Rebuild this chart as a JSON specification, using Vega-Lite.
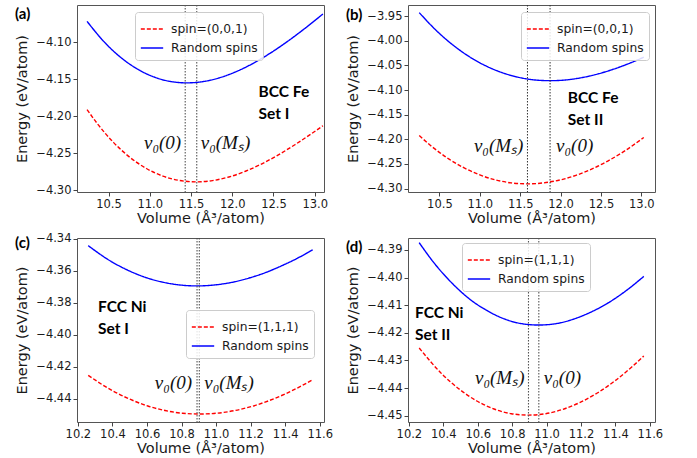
{
  "$schema": "https://vega.github.io/schema/vega-lite/v6.json",
  "padding": {"left": 14, "top": 3, "right": 5, "bottom": 5},
  "background": "white",
  "columns": 2,
  "spacing": {"row": 6, "column": 12},
  "resolve": {
    "scale": {"x": "independent", "y": "independent", "color": "independent", "strokeDash": "independent"},
    "legend": {"color": "independent", "strokeDash": "independent"}
  },
  "datasets": {
    "a": [
      {"s": "Random spins", "V": 10.24, "E": -4.0720}, {"s": "Random spins", "V": 10.45, "E": -4.1000},
      {"s": "Random spins", "V": 10.65, "E": -4.1208}, {"s": "Random spins", "V": 10.85, "E": -4.1363},
      {"s": "Random spins", "V": 11.05, "E": -4.1470}, {"s": "Random spins", "V": 11.25, "E": -4.1531},
      {"s": "Random spins", "V": 11.45, "E": -4.1550}, {"s": "Random spins", "V": 11.65, "E": -4.1532},
      {"s": "Random spins", "V": 11.85, "E": -4.1480}, {"s": "Random spins", "V": 12.05, "E": -4.1397},
      {"s": "Random spins", "V": 12.25, "E": -4.1289}, {"s": "Random spins", "V": 12.45, "E": -4.1157},
      {"s": "Random spins", "V": 12.65, "E": -4.1007}, {"s": "Random spins", "V": 12.85, "E": -4.0842},
      {"s": "Random spins", "V": 13.10, "E": -4.0620},
      {"s": "spin=(0,0,1)", "V": 10.24, "E": -4.1910}, {"s": "spin=(0,0,1)", "V": 10.36, "E": -4.2094},
      {"s": "spin=(0,0,1)", "V": 10.56, "E": -4.2353}, {"s": "spin=(0,0,1)", "V": 10.76, "E": -4.2556},
      {"s": "spin=(0,0,1)", "V": 10.96, "E": -4.2706}, {"s": "spin=(0,0,1)", "V": 11.16, "E": -4.2809},
      {"s": "spin=(0,0,1)", "V": 11.36, "E": -4.2867}, {"s": "spin=(0,0,1)", "V": 11.56, "E": -4.2886},
      {"s": "spin=(0,0,1)", "V": 11.76, "E": -4.2869}, {"s": "spin=(0,0,1)", "V": 11.96, "E": -4.2820},
      {"s": "spin=(0,0,1)", "V": 12.16, "E": -4.2743}, {"s": "spin=(0,0,1)", "V": 12.36, "E": -4.2642},
      {"s": "spin=(0,0,1)", "V": 12.56, "E": -4.2521}, {"s": "spin=(0,0,1)", "V": 12.76, "E": -4.2385},
      {"s": "spin=(0,0,1)", "V": 12.96, "E": -4.2237}, {"s": "spin=(0,0,1)", "V": 13.10, "E": -4.2129}
    ],
    "b": [
      {"s": "Random spins", "V": 10.25, "E": -3.9430}, {"s": "Random spins", "V": 10.47, "E": -3.9806},
      {"s": "Random spins", "V": 10.67, "E": -4.0090}, {"s": "Random spins", "V": 10.87, "E": -4.0323},
      {"s": "Random spins", "V": 11.07, "E": -4.0506}, {"s": "Random spins", "V": 11.27, "E": -4.0643},
      {"s": "Random spins", "V": 11.47, "E": -4.0738}, {"s": "Random spins", "V": 11.67, "E": -4.0793},
      {"s": "Random spins", "V": 11.87, "E": -4.0810}, {"s": "Random spins", "V": 12.07, "E": -4.0794},
      {"s": "Random spins", "V": 12.27, "E": -4.0746}, {"s": "Random spins", "V": 12.47, "E": -4.0670},
      {"s": "Random spins", "V": 12.67, "E": -4.0569}, {"s": "Random spins", "V": 12.87, "E": -4.0446},
      {"s": "Random spins", "V": 13.03, "E": -4.0334},
      {"s": "spin=(0,0,1)", "V": 10.25, "E": -4.1923}, {"s": "spin=(0,0,1)", "V": 10.39, "E": -4.2124},
      {"s": "spin=(0,0,1)", "V": 10.59, "E": -4.2369}, {"s": "spin=(0,0,1)", "V": 10.79, "E": -4.2565},
      {"s": "spin=(0,0,1)", "V": 10.99, "E": -4.2715}, {"s": "spin=(0,0,1)", "V": 11.19, "E": -4.2821},
      {"s": "spin=(0,0,1)", "V": 11.39, "E": -4.2883}, {"s": "spin=(0,0,1)", "V": 11.59, "E": -4.2903},
      {"s": "spin=(0,0,1)", "V": 11.79, "E": -4.2883}, {"s": "spin=(0,0,1)", "V": 11.99, "E": -4.2825},
      {"s": "spin=(0,0,1)", "V": 12.19, "E": -4.2730}, {"s": "spin=(0,0,1)", "V": 12.39, "E": -4.2599},
      {"s": "spin=(0,0,1)", "V": 12.59, "E": -4.2435}, {"s": "spin=(0,0,1)", "V": 12.79, "E": -4.2239},
      {"s": "spin=(0,0,1)", "V": 13.03, "E": -4.1963}
    ],
    "c": [
      {"s": "Random spins", "V": 10.26, "E": -4.3442}, {"s": "Random spins", "V": 10.39, "E": -4.3539},
      {"s": "Random spins", "V": 10.49, "E": -4.3596}, {"s": "Random spins", "V": 10.59, "E": -4.3640},
      {"s": "Random spins", "V": 10.69, "E": -4.3670}, {"s": "Random spins", "V": 10.79, "E": -4.3688},
      {"s": "Random spins", "V": 10.89, "E": -4.3694}, {"s": "Random spins", "V": 10.99, "E": -4.3688},
      {"s": "Random spins", "V": 11.09, "E": -4.3672}, {"s": "Random spins", "V": 11.19, "E": -4.3645},
      {"s": "Random spins", "V": 11.29, "E": -4.3609}, {"s": "Random spins", "V": 11.39, "E": -4.3563},
      {"s": "Random spins", "V": 11.49, "E": -4.3510}, {"s": "Random spins", "V": 11.56, "E": -4.3467},
      {"s": "spin=(1,1,1)", "V": 10.26, "E": -4.4254}, {"s": "spin=(1,1,1)", "V": 10.405, "E": -4.4353},
      {"s": "spin=(1,1,1)", "V": 10.505, "E": -4.4405}, {"s": "spin=(1,1,1)", "V": 10.605, "E": -4.4446},
      {"s": "spin=(1,1,1)", "V": 10.705, "E": -4.4474}, {"s": "spin=(1,1,1)", "V": 10.805, "E": -4.4491},
      {"s": "spin=(1,1,1)", "V": 10.905, "E": -4.4496}, {"s": "spin=(1,1,1)", "V": 11.005, "E": -4.4491},
      {"s": "spin=(1,1,1)", "V": 11.105, "E": -4.4475}, {"s": "spin=(1,1,1)", "V": 11.205, "E": -4.4449},
      {"s": "spin=(1,1,1)", "V": 11.305, "E": -4.4413}, {"s": "spin=(1,1,1)", "V": 11.405, "E": -4.4368},
      {"s": "spin=(1,1,1)", "V": 11.505, "E": -4.4314}, {"s": "spin=(1,1,1)", "V": 11.56, "E": -4.4281}
    ],
    "d": [
      {"s": "Random spins", "V": 10.26, "E": -4.3874}, {"s": "Random spins", "V": 10.355, "E": -4.3954},
      {"s": "Random spins", "V": 10.455, "E": -4.4023}, {"s": "Random spins", "V": 10.555, "E": -4.4079},
      {"s": "Random spins", "V": 10.655, "E": -4.4120}, {"s": "Random spins", "V": 10.755, "E": -4.4150},
      {"s": "Random spins", "V": 10.855, "E": -4.4167}, {"s": "Random spins", "V": 10.955, "E": -4.4172},
      {"s": "Random spins", "V": 11.055, "E": -4.4167}, {"s": "Random spins", "V": 11.155, "E": -4.4151},
      {"s": "Random spins", "V": 11.255, "E": -4.4126}, {"s": "Random spins", "V": 11.355, "E": -4.4093},
      {"s": "Random spins", "V": 11.455, "E": -4.4051}, {"s": "Random spins", "V": 11.565, "E": -4.3996},
      {"s": "spin=(1,1,1)", "V": 10.26, "E": -4.4255}, {"s": "spin=(1,1,1)", "V": 10.395, "E": -4.4351},
      {"s": "spin=(1,1,1)", "V": 10.495, "E": -4.4405}, {"s": "spin=(1,1,1)", "V": 10.595, "E": -4.4447},
      {"s": "spin=(1,1,1)", "V": 10.695, "E": -4.4476}, {"s": "spin=(1,1,1)", "V": 10.795, "E": -4.4493},
      {"s": "spin=(1,1,1)", "V": 10.895, "E": -4.4498}, {"s": "spin=(1,1,1)", "V": 10.995, "E": -4.4493},
      {"s": "spin=(1,1,1)", "V": 11.095, "E": -4.4477}, {"s": "spin=(1,1,1)", "V": 11.195, "E": -4.4452},
      {"s": "spin=(1,1,1)", "V": 11.295, "E": -4.4418}, {"s": "spin=(1,1,1)", "V": 11.395, "E": -4.4375},
      {"s": "spin=(1,1,1)", "V": 11.495, "E": -4.4324}, {"s": "spin=(1,1,1)", "V": 11.565, "E": -4.4284}
    ],
    "one": [{"k": 1}]
  },
  "concat": [
    {
      "width": 247, "height": 187,
      "title": {"text": "(a)", "orient": "top", "anchor": "start", "frame": "group", "offset": -18, "dx": -62},
      "layer": [
        {
          "data": {"name": "a"},
          "mark": {"type": "line", "interpolate": "monotone", "strokeWidth": 1.4},
          "encoding": {
            "x": {"field": "V", "type": "quantitative", "scale": {"domain": [10.118, 13.113], "nice": false, "zero": false},
                  "axis": {"title": "Volume (Å³/atom)", "values": [10.5, 11.0, 11.5, 12.0, 12.5, 13.0], "format": ".1f", "labelOverlap": false, "tickCount": 30}},
            "y": {"field": "E", "type": "quantitative", "scale": {"domain": [-4.3023, -4.0499], "nice": false, "zero": false},
                  "axis": {"title": "Energy (eV/atom)", "values": [-4.30, -4.25, -4.20, -4.15, -4.10], "format": ".2f", "labelOverlap": false, "tickCount": 30}},
            "color": {"field": "s", "type": "nominal", "scale": {"domain": ["spin=(0,0,1)", "Random spins"], "range": ["#ff0000", "#0000ff"]},
                      "legend": {"title": null, "orient": "none", "legendX": 58, "legendY": 7}},
            "strokeDash": {"field": "s", "type": "nominal", "scale": {"domain": ["spin=(0,0,1)", "Random spins"], "range": [[4, 2], [1, 0]]},
                      "legend": {"title": null, "orient": "none", "legendX": 58, "legendY": 7}}
          }
        },
        {
          "data": {"values": [{"v": 11.43}, {"v": 11.57}]},
          "mark": {"type": "rule", "color": "#555", "strokeWidth": 1.1, "strokeDash": [1.5, 1.5]},
          "encoding": {"x": {"field": "v", "type": "quantitative"}}
        },
        {
          "data": {"name": "one"},
          "mark": {"type": "text", "text": "v₀(0)", "align": "right", "dx": -4, "baseline": "alphabetic", "font": "Liberation Serif", "fontStyle": "italic", "fontSize": 19, "color": "#111"},
          "encoding": {"x": {"datum": 11.43, "type": "quantitative"}, "y": {"datum": -4.2438, "type": "quantitative"}}
        },
        {
          "data": {"name": "one"},
          "mark": {"type": "text", "text": "v₀(Mₛ)", "align": "left", "dx": 4, "baseline": "alphabetic", "font": "Liberation Serif", "fontStyle": "italic", "fontSize": 19, "color": "#111"},
          "encoding": {"x": {"datum": 11.57, "type": "quantitative"}, "y": {"datum": -4.2438, "type": "quantitative"}}
        },
        {
          "data": {"name": "one"},
          "mark": {"type": "text", "text": "BCC Fe\nSet I", "lineBreak": "\n", "lineHeight": 22, "align": "left", "baseline": "alphabetic", "font": "Lato", "fontWeight": "bold", "fontSize": 15.5, "color": "#000"},
          "encoding": {"x": {"datum": 12.32, "type": "quantitative"}, "y": {"datum": -4.174, "type": "quantitative"}}
        }
      ]
    },
    {
      "width": 247, "height": 187,
      "title": {"text": "(b)", "orient": "top", "anchor": "start", "frame": "group", "offset": -18, "dx": -62},
      "layer": [
        {
          "data": {"name": "b"},
          "mark": {"type": "line", "interpolate": "monotone", "strokeWidth": 1.4},
          "encoding": {
            "x": {"field": "V", "type": "quantitative", "scale": {"domain": [10.111, 13.169], "nice": false, "zero": false},
                  "axis": {"title": "Volume (Å³/atom)", "values": [10.5, 11.0, 11.5, 12.0, 12.5, 13.0], "format": ".1f", "labelOverlap": false, "tickCount": 30}},
            "y": {"field": "E", "type": "quantitative", "scale": {"domain": [-4.3068, -3.9275], "nice": false, "zero": false},
                  "axis": {"title": "Energy (eV/atom)", "values": [-4.30, -4.25, -4.20, -4.15, -4.10, -4.05, -4.00, -3.95], "format": ".2f", "labelOverlap": false, "tickCount": 30}},
            "color": {"field": "s", "type": "nominal", "scale": {"domain": ["spin=(0,0,1)", "Random spins"], "range": ["#ff0000", "#0000ff"]},
                      "legend": {"title": null, "orient": "none", "legendX": 113, "legendY": 7}},
            "strokeDash": {"field": "s", "type": "nominal", "scale": {"domain": ["spin=(0,0,1)", "Random spins"], "range": [[4, 2], [1, 0]]},
                      "legend": {"title": null, "orient": "none", "legendX": 113, "legendY": 7}}
          }
        },
        {
          "data": {"values": [{"v": 11.59}, {"v": 11.87}]},
          "mark": {"type": "rule", "color": "#333", "strokeWidth": 1, "strokeDash": [1.5, 1.5]},
          "encoding": {"x": {"field": "v", "type": "quantitative"}}
        },
        {
          "data": {"name": "one"},
          "mark": {"type": "text", "text": "v₀(Mₛ)", "align": "right", "dx": -4, "baseline": "alphabetic", "font": "Liberation Serif", "fontStyle": "italic", "fontSize": 19, "color": "#111"},
          "encoding": {"x": {"datum": 11.59, "type": "quantitative"}, "y": {"datum": -4.2264, "type": "quantitative"}}
        },
        {
          "data": {"name": "one"},
          "mark": {"type": "text", "text": "v₀(0)", "align": "left", "dx": 6, "baseline": "alphabetic", "font": "Liberation Serif", "fontStyle": "italic", "fontSize": 19, "color": "#111"},
          "encoding": {"x": {"datum": 11.87, "type": "quantitative"}, "y": {"datum": -4.2264, "type": "quantitative"}}
        },
        {
          "data": {"name": "one"},
          "mark": {"type": "text", "text": "BCC Fe\nSet II", "lineBreak": "\n", "lineHeight": 22, "align": "left", "baseline": "alphabetic", "font": "Lato", "fontWeight": "bold", "fontSize": 15.5, "color": "#000"},
          "encoding": {"x": {"datum": 12.09, "type": "quantitative"}, "y": {"datum": -4.1256, "type": "quantitative"}}
        }
      ]
    },
    {
      "width": 247, "height": 184,
      "title": {"text": "(c)", "orient": "top", "anchor": "start", "frame": "group", "offset": -18, "dx": -62},
      "layer": [
        {
          "data": {"name": "c"},
          "mark": {"type": "line", "interpolate": "monotone", "strokeWidth": 1.4},
          "encoding": {
            "x": {"field": "V", "type": "quantitative", "scale": {"domain": [10.195, 11.625], "nice": false, "zero": false},
                  "axis": {"title": "Volume (Å³/atom)", "values": [10.2, 10.4, 10.6, 10.8, 11.0, 11.2, 11.4, 11.6], "format": ".1f", "labelOverlap": false, "tickCount": 30}},
            "y": {"field": "E", "type": "quantitative", "scale": {"domain": [-4.4546, -4.3394], "nice": false, "zero": false},
                  "axis": {"title": "Energy (eV/atom)", "values": [-4.44, -4.42, -4.40, -4.38, -4.36, -4.34], "format": ".2f", "labelOverlap": false, "tickCount": 30}},
            "color": {"field": "s", "type": "nominal", "scale": {"domain": ["spin=(1,1,1)", "Random spins"], "range": ["#ff0000", "#0000ff"]},
                      "legend": {"title": null, "orient": "none", "legendX": 109, "legendY": 72}},
            "strokeDash": {"field": "s", "type": "nominal", "scale": {"domain": ["spin=(1,1,1)", "Random spins"], "range": [[4, 2], [1, 0]]},
                      "legend": {"title": null, "orient": "none", "legendX": 109, "legendY": 72}}
          }
        },
        {
          "data": {"values": [{"v": 10.89}, {"v": 10.903}]},
          "mark": {"type": "rule", "color": "#444", "strokeWidth": 1, "strokeDash": [1.5, 1.5]},
          "encoding": {"x": {"field": "v", "type": "quantitative"}}
        },
        {
          "data": {"name": "one"},
          "mark": {"type": "text", "text": "v₀(0)", "align": "right", "dx": -5, "baseline": "alphabetic", "font": "Liberation Serif", "fontStyle": "italic", "fontSize": 19, "color": "#111"},
          "encoding": {"x": {"datum": 10.89, "type": "quantitative"}, "y": {"datum": -4.4338, "type": "quantitative"}}
        },
        {
          "data": {"name": "one"},
          "mark": {"type": "text", "text": "v₀(Mₛ)", "align": "left", "dx": 5, "baseline": "alphabetic", "font": "Liberation Serif", "fontStyle": "italic", "fontSize": 19, "color": "#111"},
          "encoding": {"x": {"datum": 10.903, "type": "quantitative"}, "y": {"datum": -4.4338, "type": "quantitative"}}
        },
        {
          "data": {"name": "one"},
          "mark": {"type": "text", "text": "FCC Ni\nSet I", "lineBreak": "\n", "lineHeight": 22, "align": "left", "baseline": "alphabetic", "font": "Lato", "fontWeight": "bold", "fontSize": 15.5, "color": "#000"},
          "encoding": {"x": {"datum": 10.317, "type": "quantitative"}, "y": {"datum": -4.3858, "type": "quantitative"}}
        }
      ]
    },
    {
      "width": 247, "height": 184,
      "title": {"text": "(d)", "orient": "top", "anchor": "start", "frame": "group", "offset": -18, "dx": -62},
      "layer": [
        {
          "data": {"name": "d"},
          "mark": {"type": "line", "interpolate": "monotone", "strokeWidth": 1.4},
          "encoding": {
            "x": {"field": "V", "type": "quantitative", "scale": {"domain": [10.195, 11.63], "nice": false, "zero": false},
                  "axis": {"title": "Volume (Å³/atom)", "values": [10.2, 10.4, 10.6, 10.8, 11.0, 11.2, 11.4, 11.6], "format": ".1f", "labelOverlap": false, "tickCount": 30}},
            "y": {"field": "E", "type": "quantitative", "scale": {"domain": [-4.4523, -4.3857], "nice": false, "zero": false},
                  "axis": {"title": "Energy (eV/atom)", "values": [-4.45, -4.44, -4.43, -4.42, -4.41, -4.40, -4.39], "format": ".2f", "labelOverlap": false, "tickCount": 30}},
            "color": {"field": "s", "type": "nominal", "scale": {"domain": ["spin=(1,1,1)", "Random spins"], "range": ["#ff0000", "#0000ff"]},
                      "legend": {"title": null, "orient": "none", "legendX": 54, "legendY": 5}},
            "strokeDash": {"field": "s", "type": "nominal", "scale": {"domain": ["spin=(1,1,1)", "Random spins"], "range": [[4, 2], [1, 0]]},
                      "legend": {"title": null, "orient": "none", "legendX": 54, "legendY": 5}}
          }
        },
        {
          "data": {"values": [{"v": 10.895}, {"v": 10.955}]},
          "mark": {"type": "rule", "color": "#555", "strokeWidth": 1.1, "strokeDash": [1.5, 1.5]},
          "encoding": {"x": {"field": "v", "type": "quantitative"}}
        },
        {
          "data": {"name": "one"},
          "mark": {"type": "text", "text": "v₀(Mₛ)", "align": "right", "dx": -4, "baseline": "alphabetic", "font": "Liberation Serif", "fontStyle": "italic", "fontSize": 19, "color": "#111"},
          "encoding": {"x": {"datum": 10.895, "type": "quantitative"}, "y": {"datum": -4.4385, "type": "quantitative"}}
        },
        {
          "data": {"name": "one"},
          "mark": {"type": "text", "text": "v₀(0)", "align": "left", "dx": 5, "baseline": "alphabetic", "font": "Liberation Serif", "fontStyle": "italic", "fontSize": 19, "color": "#111"},
          "encoding": {"x": {"datum": 10.955, "type": "quantitative"}, "y": {"datum": -4.4385, "type": "quantitative"}}
        },
        {
          "data": {"name": "one"},
          "mark": {"type": "text", "text": "FCC Ni\nSet II", "lineBreak": "\n", "lineHeight": 22, "align": "left", "baseline": "alphabetic", "font": "Lato", "fontWeight": "bold", "fontSize": 15.5, "color": "#000"},
          "encoding": {"x": {"datum": 10.236, "type": "quantitative"}, "y": {"datum": -4.4145, "type": "quantitative"}}
        }
      ]
    }
  ],
  "config": {
    "font": "DejaVu Sans",
    "view": {"stroke": "#555", "strokeWidth": 1},
    "title": {"font": "Lato", "fontSize": 15, "fontWeight": "bold", "color": "#000"},
    "axis": {
      "labelFont": "DejaVu Sans", "labelFontSize": 11.5, "labelColor": "#1a1a1a",
      "titleFont": "DejaVu Sans", "titleFontSize": 14.5, "titleFontWeight": "normal", "titleColor": "#1a1a1a",
      "domain": false, "grid": false, "tickColor": "#444", "tickSize": 4, "labelPadding": 2,
      "labelFlush": false, "labelOverlap": false
    },
    "axisX": {"titlePadding": 2},
    "axisY": {"titlePadding": 6},
    "legend": {
      "labelFont": "DejaVu Sans", "labelFontSize": 12.3, "labelColor": "#1a1a1a",
      "symbolType": "stroke", "symbolSize": 500, "symbolStrokeWidth": 1.5,
      "strokeColor": "#cccccc", "fillColor": "rgba(255,255,255,0.85)", "cornerRadius": 3,
      "padding": 5, "rowPadding": 0, "labelOffset": 7
    }
  }
}
